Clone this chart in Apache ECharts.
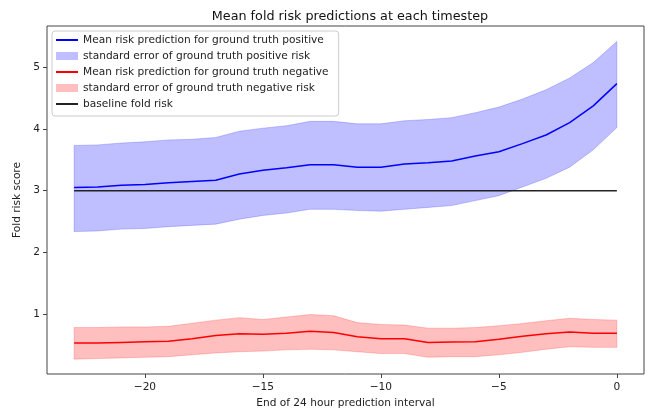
<!DOCTYPE html>
<html>
<head>
<meta charset="utf-8">
<script src="https://cdn.jsdelivr.net/npm/echarts@6/dist/echarts.min.js"></script>
<style>html,body{margin:0;padding:0;background:#fff}#c{width:649px;height:409px}</style>
</head>
<body>
<div id="c"></div>
<script>
var timesteps = [-23,-22,-21,-20,-19,-18,-17,-16,-15,-14,-13,-12,-11,-10,-9,-8,-7,-6,-5,-4,-3,-2,-1,0];
var posMean  = [3.05,3.06,3.09,3.10,3.13,3.15,3.17,3.27,3.33,3.37,3.42,3.42,3.38,3.38,3.43,3.45,3.48,3.56,3.63,3.76,3.90,4.10,4.37,4.73];
var posUpper = [3.73,3.74,3.77,3.79,3.82,3.83,3.86,3.96,4.01,4.05,4.12,4.12,4.08,4.08,4.13,4.15,4.18,4.26,4.35,4.48,4.63,4.82,5.07,5.41];
var posLower = [2.34,2.35,2.38,2.39,2.42,2.44,2.46,2.54,2.60,2.64,2.70,2.70,2.68,2.67,2.70,2.73,2.76,2.84,2.92,3.06,3.20,3.38,3.66,4.02];
var negMean  = [0.54,0.54,0.55,0.56,0.57,0.61,0.66,0.69,0.68,0.70,0.73,0.71,0.64,0.61,0.61,0.55,0.555,0.56,0.60,0.65,0.69,0.72,0.70,0.70];
var negUpper = [0.79,0.79,0.80,0.80,0.81,0.86,0.91,0.95,0.92,0.96,1.00,0.98,0.87,0.84,0.83,0.78,0.78,0.79,0.82,0.855,0.90,0.94,0.92,0.91];
var negLower = [0.28,0.29,0.30,0.31,0.32,0.35,0.38,0.40,0.41,0.43,0.44,0.43,0.40,0.37,0.37,0.31,0.32,0.32,0.35,0.39,0.44,0.48,0.47,0.47];
var baselineRisk = 3.0;
var xTicks = [-20,-15,-10,-5,0];
var yTicks = [1,2,3,4,5];

var names = {
  posMean: 'Mean risk prediction for ground truth positive',
  posBand: 'standard error of ground truth positive risk',
  negMean: 'Mean risk prediction for ground truth negative',
  negBand: 'standard error of ground truth negative risk',
  base: 'baseline fold risk'
};

function pairs(xs, ys){ return xs.map(function(x,i){ return [x, ys[i]]; }); }
function triples(xs, lo, hi){ return xs.map(function(x,i){ return [x, lo[i], hi[i]]; }); }

function bandRenderer(fill){
  return function(params, api){
    if (params.dataIndexInside !== 0) return null;
    var n = params.dataInsideLength, top = [], bottom = [];
    for (var i = 0; i < n; i++) {
      var x = api.value(0, i);
      top.push(api.coord([x, api.value(2, i)]));
      bottom.push(api.coord([x, api.value(1, i)]));
    }
    var pts = top.concat(bottom.reverse());
    return {
      type: 'polygon',
      shape: {points: pts},
      style: {fill: fill, stroke: fill, lineWidth: 0.8}
    };
  };
}

var FONT = 'DejaVu Sans';
var lineIcon = 'path://M0,0L22,0L22,2L0,2Z';

var chart = echarts.init(document.getElementById('c'), null, {renderer:'canvas'});
chart.setOption({
  animation: false,
  backgroundColor: '#fff',
  title: {
    text: 'Mean fold risk predictions at each timestep',
    left: 345, top: 5, textAlign: 'center',
    textStyle: {fontFamily: FONT, fontSize: 12.75, fontWeight: 'normal', color: '#111'}
  },
  grid: {left: 47, right: 5, top: 26, bottom: 35, containLabel: false, outerBoundsMode: 'none',
    show: true, borderColor: '#444', borderWidth: 1, backgroundColor: 'transparent'},
  legend: {
    orient: 'vertical', left: 52, top: 31,
    backgroundColor: 'rgba(255,255,255,0.8)', borderColor: '#ccc', borderWidth: 1, borderRadius: 3,
    padding: [2, 10, 5, 4],
    itemWidth: 22, itemHeight: 8, itemGap: 2, itemTextGap: 9,
    textStyle: {fontFamily: FONT, fontSize: 10.6, color: '#222', lineHeight: 14},
    data: [
      {name: names.posMean, icon: lineIcon, itemStyle: {color: '#0000ff'}},
      {name: names.posBand, icon: 'rect', itemStyle: {color: 'rgba(0,0,255,0.25)'}},
      {name: names.negMean, icon: lineIcon, itemStyle: {color: '#ff0000'}},
      {name: names.negBand, icon: 'rect', itemStyle: {color: 'rgba(255,0,0,0.25)'}},
      {name: names.base, icon: lineIcon, itemStyle: {color: '#222'}}
    ]
  },
  xAxis: {
    type: 'value', min: -24.15, max: 1.15,
    name: 'End of 24 hour prediction interval', nameLocation: 'middle', nameGap: 24,
    nameTextStyle: {fontFamily: FONT, fontSize: 10.6, color: '#222'},
    axisLine: {show: false, onZero: false},
    splitLine: {show: false},
    axisTick: {show: true, inside: false, length: 4, lineStyle: {color: '#444'}, customValues: xTicks},
    axisLabel: {fontFamily: FONT, fontSize: 10.6, color: '#222', margin: 8, customValues: xTicks,
      formatter: function(v){ return String(v).replace('-', '\u2212'); }}
  },
  yAxis: {
    type: 'value', min: 0.04, max: 5.66,
    name: 'Fold risk score', nameLocation: 'middle', nameGap: 17,
    nameTextStyle: {fontFamily: FONT, fontSize: 10.6, color: '#222'},
    axisLine: {show: false, onZero: false},
    splitLine: {show: false},
    axisTick: {show: true, inside: false, length: 4, lineStyle: {color: '#444'}, customValues: yTicks},
    axisLabel: {fontFamily: FONT, fontSize: 10.6, color: '#222', margin: 7, customValues: yTicks}
  },
  series: [
    {type: 'custom', name: names.posBand, data: triples(timesteps, posLower, posUpper),
     renderItem: bandRenderer('rgba(0,0,255,0.25)'), color: 'rgba(0,0,255,0.25)', encode: {x: 0, y: [1, 2]}, z: 1, silent: true},
    {type: 'custom', name: names.negBand, data: triples(timesteps, negLower, negUpper),
     renderItem: bandRenderer('rgba(255,0,0,0.25)'), color: 'rgba(255,0,0,0.25)', encode: {x: 0, y: [1, 2]}, z: 1, silent: true},
    {type: 'line', name: names.posMean, data: pairs(timesteps, posMean), symbol: 'none', color: '#0000ff',
     lineStyle: {color: '#0000ff', width: 1.5}, z: 3},
    {type: 'line', name: names.negMean, data: pairs(timesteps, negMean), symbol: 'none', color: '#ff0000',
     lineStyle: {color: '#ff0000', width: 1.5}, z: 3},
    {type: 'line', name: names.base, data: [[timesteps[0], baselineRisk], [timesteps[timesteps.length-1], baselineRisk]],
     symbol: 'none', color: '#222', lineStyle: {color: '#222', width: 1.5}, z: 4}
  ]
});
</script>
</body>
</html>
